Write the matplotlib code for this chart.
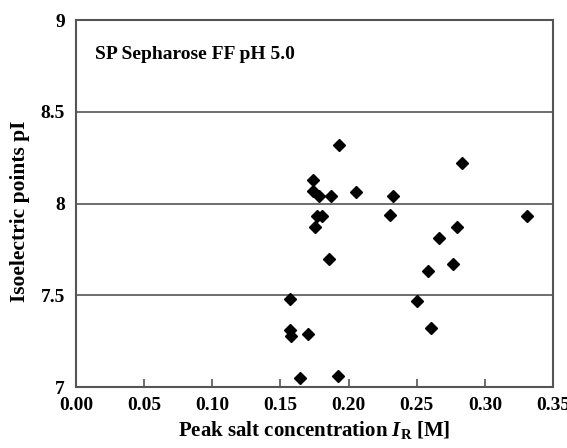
import matplotlib
matplotlib.use("Agg")
import matplotlib.pyplot as plt

plt.rcParams['font.family'] = ['Liberation Serif', 'DejaVu Serif']
plt.rcParams['font.weight'] = 'bold'
plt.rcParams['mathtext.fontset'] = 'custom'
plt.rcParams['mathtext.rm'] = 'Liberation Serif:bold'
plt.rcParams['mathtext.it'] = 'Liberation Serif:italic:bold'
plt.rcParams['mathtext.bf'] = 'Liberation Serif:bold'

peak_salt = [0.283, 0.1737, 0.1741, 0.1785, 0.1871, 0.2054, 0.2326, 0.1771, 0.1805,
             0.2304, 0.3307, 0.1754, 0.2798, 0.2661, 0.1856, 0.2766, 0.2583, 0.1568,
             0.2502, 0.1573, 0.158, 0.1702, 0.2607, 0.1932, 0.1646, 0.1922]
isoelectric = [8.22, 8.13, 8.07, 8.04, 8.04, 8.06, 8.04, 7.93, 7.93,
               7.94, 7.93, 7.87, 7.87, 7.81, 7.70, 7.67, 7.63, 7.48,
               7.47, 7.31, 7.28, 7.29, 7.32, 8.32, 7.05, 7.06]
x_ticks = [0.00, 0.05, 0.10, 0.15, 0.20, 0.25, 0.30, 0.35]
y_ticks = [7, 7.5, 8, 8.5, 9]
y_tick_labels = ['7', '7.5', '8', '8.5', '9']

fig = plt.figure(figsize=(5.67, 4.48), dpi=100)
ax = fig.add_axes([76/567, 1 - 387/448, (553-76)/567, (387-20)/448])

ax.plot(peak_salt, isoelectric, linestyle='none', marker='D', ms=6, color='black')

ax.set_xlim(0, 0.35)
ax.set_ylim(7, 9)
ax.set_xticks(x_ticks)
ax.set_xticklabels([f"{v:.2f}" for v in x_ticks])
ax.set_yticks(y_ticks)
ax.set_yticklabels(y_tick_labels)
for y in [7.5, 8, 8.5]:
    ax.axhline(y, color='#555555', lw=1.2, zorder=0)

ax.tick_params(axis='x', direction='in', length=6, width=1.2, color='#555555',
               labelsize=14, pad=7)
ax.tick_params(axis='y', length=0, labelsize=14, pad=8)
for s in ax.spines.values():
    s.set_color('#555555')
    s.set_linewidth(1.5)

ax.set_xlabel(r'Peak salt concentration $I_{\mathrm{R}}$ [M]', fontsize=15,
              fontweight='bold')
ax.xaxis.set_label_coords(0.5, -0.088)
ax.set_ylabel('Isoelectric points pI', fontsize=15.5, fontweight='bold')
ax.yaxis.set_label_coords(-0.096, 0.48)
ax.text(0.04, 0.906, 'SP Sepharose FF pH 5.0', transform=ax.transAxes,
        fontsize=14, fontweight='bold', va='center', ha='left')

fig.savefig('out.png', dpi=100)
